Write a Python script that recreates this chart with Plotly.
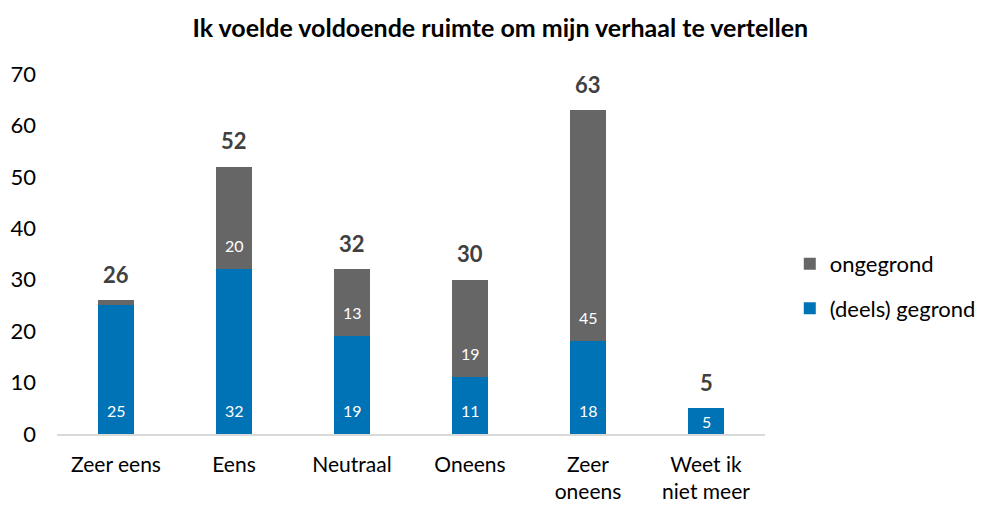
import plotly.graph_objects as go

categories = ["Zeer eens", "Eens", "Neutraal", "Oneens", "Zeer<br>oneens", "Weet ik<br>niet meer"]
gegrond = [25, 32, 19, 11, 18, 5]
ongegrond = [1, 20, 13, 19, 45, 0]
totals = [g + o for g, o in zip(gegrond, ongegrond)]
title = "Ik voelde voldoende ruimte om mijn verhaal te vertellen"

BLUE = "#0073B6"
GREY = "#666666"
FONT = "Lato"

H_PLOT = 360
Y_MAX = 70
px_per_unit = H_PLOT / Y_MAX

fig = go.Figure()
fig.add_trace(go.Bar(x=categories, y=gegrond, name="(deels) gegrond",
                     marker=dict(color=BLUE, line=dict(width=0)),
                     legendgroup="a", legendrank=2))
fig.add_trace(go.Bar(x=categories, y=ongegrond, name="ongegrond",
                     marker=dict(color=GREY, line=dict(width=0)),
                     legendgroup="b", legendrank=1))

annotations = []
# inner labels
for cat, g, o in zip(categories, gegrond, ongegrond):
    for base, val in ((0, g), (g, o)):
        if val < 2:
            continue
        seg_px = val * px_per_unit
        shift = min(24, seg_px / 2)
        annotations.append(dict(x=cat, y=base, yshift=shift, text=str(val),
                                showarrow=False, xref="x", yref="y",
                                font=dict(family=FONT, size=16, color="white")))
# totals
for cat, t in zip(categories, totals):
    annotations.append(dict(x=cat, y=t, yshift=26, text="<b>%d</b>" % t,
                            showarrow=False, xref="x", yref="y",
                            font=dict(family=FONT, size=22, color="#404040")))

fig.update_layout(
    width=981, height=505,
    margin=dict(l=57, r=216, t=74, b=71, autoexpand=False),
    barmode="stack", bargap=0.69,
    plot_bgcolor="white", paper_bgcolor="white",
    font=dict(family=FONT, size=22, color="#000000"),
    title=dict(text="<b>" + title + "</b>", x=0.51, xanchor="center",
               y=0.945, yanchor="middle",
               font=dict(family=FONT, size=25, color="#000000")),
    legend=dict(x=1.035, y=0.41, xanchor="left", yanchor="middle",
                traceorder="grouped", tracegroupgap=13,
                font=dict(family=FONT, size=22, color="#000000"),
                itemwidth=30),
    annotations=annotations,
    xaxis=dict(showgrid=False, showline=True, linecolor="#D9D9D9", linewidth=1.5,
               ticks="", ticklabelstandoff=11, tickfont=dict(size=21),
               automargin=False),
    yaxis=dict(range=[0, Y_MAX], dtick=10, showgrid=False, showline=False,
               zeroline=False, ticks="", ticklabelstandoff=20,
               tickfont=dict(size=22), automargin=False),
)

fig.write_html("out.html", config={"displayModeBar": False},
               post_script="document.body.style.margin='0';document.body.style.overflow='hidden';")
